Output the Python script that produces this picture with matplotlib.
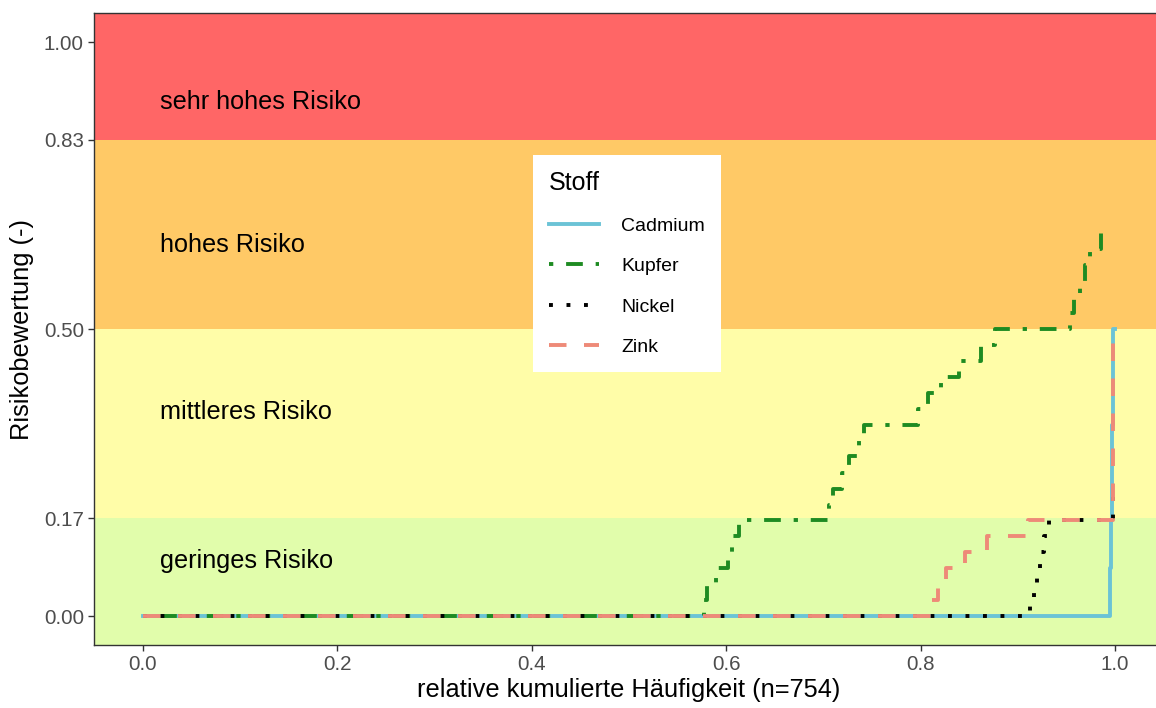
import matplotlib
matplotlib.use("Agg")
import matplotlib.pyplot as plt

plt.rcParams['font.family'] = ['Liberation Sans', 'DejaVu Sans']

# ---- data ----
band_edges = [-0.05, 0.17, 0.50, 0.83, 1.05]
band_colors = ["#E1FDAB", "#FFFDA8", "#FFC966", "#FF6666"]
band_labels = ["geringes Risiko", "mittleres Risiko", "hohes Risiko", "sehr hohes Risiko"]
band_label_y = [0.083, 0.343, 0.635, 0.884]

stoffe = ["Cadmium", "Kupfer", "Nickel", "Zink"]

cad_x = [0.0, 0.995, 0.996, 0.997, 0.998, 1.0]
cad_y = [0.0, 0.083, 0.167, 0.333, 0.5, 0.5]

kup_x = [0.0, 0.577, 0.580, 0.590, 0.602, 0.606, 0.613,
         0.706, 0.710, 0.719, 0.726, 0.737, 0.742,
         0.797, 0.808, 0.821, 0.839, 0.862, 0.877,
         0.954, 0.958, 0.964, 0.969, 0.974, 0.986, 0.995]
kup_y = [0.0, 0.028, 0.056, 0.083, 0.111, 0.139, 0.167,
         0.194, 0.222, 0.250, 0.278, 0.306, 0.333,
         0.361, 0.389, 0.417, 0.444, 0.472, 0.500,
         0.528, 0.556, 0.583, 0.611, 0.639, 0.667, 0.667]

nic_x = [0.0, 0.913, 0.917, 0.920, 0.923, 0.927, 0.932, 0.998, 1.0]
nic_y = [0.0, 0.028, 0.056, 0.083, 0.111, 0.139, 0.167, 0.208, 0.208]

zin_x = [0.0, 0.811, 0.818, 0.826, 0.846, 0.868, 0.910, 0.998, 1.0]
zin_y = [0.0, 0.028, 0.056, 0.083, 0.111, 0.139, 0.167, 0.5, 0.5]

x_ticks = [0.0, 0.2, 0.4, 0.6, 0.8, 1.0]
x_ticklabels = ["0.0", "0.2", "0.4", "0.6", "0.8", "1.0"]
y_ticks = [0.0, 0.17, 0.50, 0.83, 1.00]
y_ticklabels = ["0.00", "0.17", "0.50", "0.83", "1.00"]

series = [
    (cad_x, cad_y, "#6BC3D6", None),
    (kup_x, kup_y, "#1E8B22", (0, (1.1, 3.3, 4.3, 3.3))),
    (nic_x, nic_y, "#000000", (0, (1.0, 3.5))),
    (zin_x, zin_y, "#EE8A78", (0, (4.5, 4.5))),
]

# ---- figure ----
W, H = 1156, 708
fig = plt.figure(figsize=(W / 100, H / 100), dpi=100)
ax = fig.add_axes([94.4 / W, (H - 644.7) / H, 1069.2 / W, 631.4 / H])
ax.set_xlim(-0.05, 1.05)
ax.set_ylim(-0.05, 1.05)

for i in range(4):
    ax.axhspan(band_edges[i], band_edges[i + 1], color=band_colors[i], lw=0, zorder=0)
    ax.text(0.0175, band_label_y[i], band_labels[i], fontsize=18.2, color="black",
            va="baseline", ha="left", zorder=1)

lw = 2.8
for (xs, ys, col, ls), name in zip(series, stoffe):
    if ls is None:
        ax.step(xs, ys, where="post", color=col, lw=lw, label=name, zorder=2)
    else:
        ax.step(xs, ys, where="post", color=col, lw=lw, linestyle=ls, label=name, zorder=2)

ax.set_xticks(x_ticks)
ax.set_xticklabels(x_ticklabels)
ax.set_yticks(y_ticks)
ax.set_yticklabels(y_ticklabels)
ax.tick_params(axis="both", colors="#333333", labelcolor="#4D4D4D", labelsize=14.8,
               length=4.5, width=1.0, pad=3)
for s in ax.spines.values():
    s.set_color("#333333")
    s.set_linewidth(1.0)
ax.spines["right"].set_visible(False)

ax.set_xlabel("relative kumulierte Häufigkeit (n=754)", fontsize=18.3, labelpad=3)
ax.set_ylabel("Risikobewertung (-)", fontsize=18.3, labelpad=7)

leg = ax.legend(title="Stoff", loc="upper left",
                bbox_to_anchor=(533 / W, 1 - 155 / H), bbox_transform=fig.transFigure,
                borderaxespad=0, frameon=True, fancybox=False, fontsize=14,
                title_fontsize=18, handlelength=2.6, handletextpad=1.15,
                labelspacing=1.17, borderpad=0.8)
leg.get_frame().set_facecolor("white")
leg.get_frame().set_edgecolor("none")
leg.get_frame().set_alpha(1.0)
leg._legend_box.align = "left"

fig.savefig("out.png", dpi=100)
